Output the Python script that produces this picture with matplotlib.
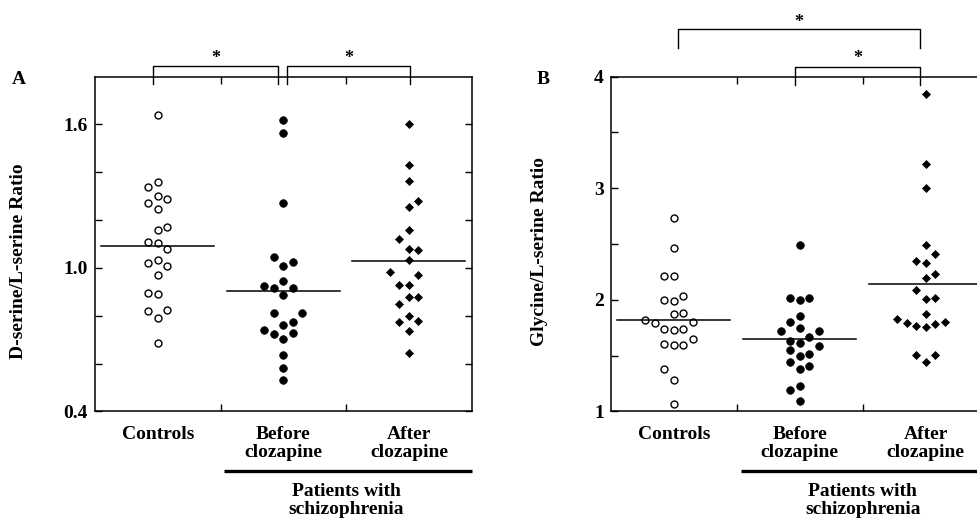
import numpy as np
import matplotlib.pyplot as plt
from matplotlib.transforms import blended_transform_factory

plt.rcParams['font.family'] = ['Liberation Serif', 'DejaVu Serif']
plt.rcParams['font.weight'] = 'bold'

# ---- data ----
groups = ['Controls', 'Before\nclozapine', 'After\nclozapine']

dser_controls = [1.64, 1.34, 1.36, 1.27, 1.30, 1.29, 1.245, 1.16, 1.17, 1.11, 1.105,
                 1.08, 1.02, 1.035, 1.01, 0.97, 0.895, 0.89, 0.82, 0.825, 0.79, 0.685]
dser_before = [1.62, 1.565, 1.27, 1.045, 1.025, 1.01, 0.945, 0.925, 0.915, 0.915, 0.885,
               0.81, 0.81, 0.775, 0.76, 0.74, 0.725, 0.73, 0.705, 0.635, 0.58, 0.53]
dser_after = [1.60, 1.43, 1.365, 1.28, 1.255, 1.16, 1.12, 1.08, 1.075, 1.035, 0.985,
              0.97, 0.93, 0.93, 0.88, 0.88, 0.85, 0.80, 0.775, 0.78, 0.735, 0.645]
dser_means = [1.09, 0.905, 1.03]

gly_controls = [2.73, 2.46, 2.21, 2.21, 2.0, 1.99, 2.035, 1.87, 1.885, 1.815, 1.79,
                1.80, 1.74, 1.73, 1.74, 1.605, 1.60, 1.60, 1.645, 1.38, 1.28, 1.065]
gly_before = [2.49, 2.015, 2.0, 2.015, 1.855, 1.80, 1.75, 1.72, 1.72, 1.635, 1.615,
              1.67, 1.59, 1.555, 1.495, 1.515, 1.445, 1.38, 1.41, 1.195, 1.225, 1.095]
gly_after = [3.84, 3.215, 3.0, 2.49, 2.41, 2.35, 2.33, 2.235, 2.195, 2.09, 2.01,
             2.02, 1.87, 1.83, 1.79, 1.77, 1.755, 1.78, 1.805, 1.51, 1.51, 1.445]
gly_means = [1.82, 1.645, 2.145]

# ---- layout: horizontal slot of each dot in the swarm ----
slot_a_controls = [0, -1, 0, -1, 0, 1, 0, 0, 1, -1, 0, 1, -1, 0, 1, 0, -1, 0, -1, 1, 0, 0]
slot_a_before = [0, 0, 0, -1, 1, 0, 0, -2, -1, 1, 0, -1, 2, 1, 0, -2, -1, 1, 0, 0, 0, 0]
slot_a_after = [0, 0, 0, 1, 0, 0, -1, 0, 1, 0, -2, 1, -1, 0, 0, 1, -1, 0, -1, 1, 0, 0]
slot_b_controls = [0, 0, -1, 0, -1, 0, 1, 0, 1, -3, -2, 2, -1, 0, 1, -1, 0, 1, 2, -1, 0, 0]
slot_b_before = [0, -1, 0, 1, 0, -1, 0, 2, -2, -1, 0, 1, 2, -1, 0, 1, -1, 0, 1, -1, 0, 0]
slot_b_after = [0, 0, 0, 0, 1, -1, 0, 1, 0, -1, 0, 1, 0, -3, -2, -1, 0, 1, 2, -1, 1, 0]

SLOT = 0.075

fig = plt.figure(figsize=(9.77, 5.23), dpi=100)
axA = fig.add_axes([0.0972, 0.2132, 0.3856, 0.6405])
axB = fig.add_axes([0.6251, 0.2132, 0.3869, 0.6405])


def draw_panel(ax, series, slots, means, ylim, major, minor, fmt):
    styles = [dict(marker='o', ms=5, mfc='white', mec='black', mew=1.0),
              dict(marker='o', ms=5.5, mfc='black', mec='black', mew=0.5),
              dict(marker='D', ms=4.5, mfc='black', mec='black', mew=0.5)]
    for i, (vals, sl, st) in enumerate(zip(series, slots, styles)):
        x = i + 0.5 + SLOT * np.array(sl)
        ax.plot(x, vals, ls='none', **st)
        ax.plot([i + 0.5 - 0.45, i + 0.5 + 0.45], [means[i], means[i]], color='black', lw=1.1)
    ax.set_xlim(0, 3)
    ax.set_ylim(*ylim)
    ax.set_xticks([1, 2])
    ax.set_xticklabels([])
    ax.set_yticks(major)
    ax.set_yticklabels([fmt.format(v) for v in major], fontsize=14, fontweight='bold')
    ax.set_yticks(minor, minor=True)
    ax.tick_params(which='both', direction='in', length=5, width=1, top=True, right=True, pad=5)
    for sp in ax.spines.values():
        sp.set_linewidth(1.1)

    tr = blended_transform_factory(ax.transData, ax.transAxes)
    for i, g in enumerate(groups):
        ax.text(i + 0.5, -0.044, g, transform=tr, ha='center', va='top',
                fontsize=14, fontweight='bold', linespacing=1.05)
    ax.plot([1.03, 3.0], [-0.178, -0.178], transform=tr, color='black', lw=2.4,
            clip_on=False, solid_capstyle='butt')
    ax.text(2, -0.266, 'Patients with\nschizophrenia', transform=tr, ha='center', va='center',
            fontsize=14, fontweight='bold', linespacing=1.05)
    return tr


def bracket(ax, tr, x0, x1, ytop, ybot, ystar):
    ax.plot([x0, x0, x1, x1], [ybot, ytop, ytop, ybot], transform=tr, color='black',
            lw=1.0, clip_on=False)
    ax.text((x0 + x1) / 2, ystar, '*', transform=tr, ha='center', va='center', fontsize=13)


trA = draw_panel(axA, [dser_controls, dser_before, dser_after],
                 [slot_a_controls, slot_a_before, slot_a_after], dser_means,
                 (0.4, 1.8), [0.4, 1.0, 1.6], [0.6, 0.8, 1.2, 1.4], '{:.1f}')
bracket(axA, trA, 0.464, 1.455, 1.031, 0.978, 1.055)
bracket(axA, trA, 1.527, 2.508, 1.031, 0.978, 1.055)

trB = draw_panel(axB, [gly_controls, gly_before, gly_after],
                 [slot_b_controls, slot_b_before, slot_b_after], gly_means,
                 (1, 4), [1, 2, 3, 4], [1.5, 2.5, 3.5], '{:d}')
bracket(axB, trB, 0.537, 2.455, 1.141, 1.086, 1.162)
bracket(axB, trB, 1.463, 2.455, 1.029, 0.975, 1.053)

fig.text(19 / 977, 1 - 261 / 523, 'D-serine/L-serine Ratio', rotation=90, ha='center',
         va='center', fontsize=14, fontweight='bold')
fig.text(539 / 977, 1 - 252 / 523, 'Glycine/L-serine Ratio', rotation=90, ha='center',
         va='center', fontsize=14, fontweight='bold')
fig.text(18.5 / 977, 1 - 80 / 523, 'A', ha='center', va='center', fontsize=14, fontweight='bold')
fig.text(543 / 977, 1 - 80 / 523, 'B', ha='center', va='center', fontsize=14, fontweight='bold')

fig.savefig('out.png', dpi=100)
